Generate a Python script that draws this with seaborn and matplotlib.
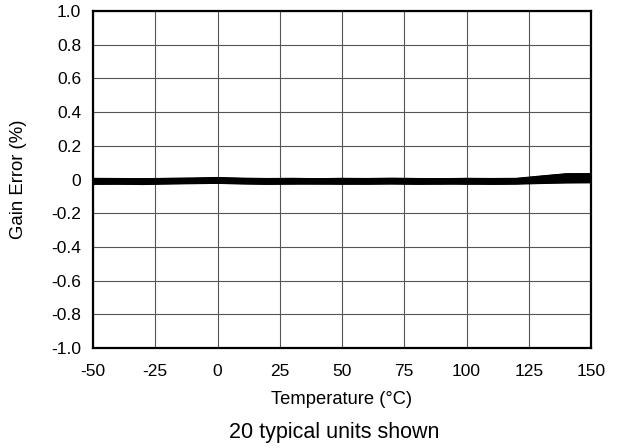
import matplotlib
matplotlib.use("Agg")
import matplotlib.pyplot as plt
import seaborn as sns
import pandas as pd

# Temperature sweep (deg C)
temperature = [-50, -40, -30, -20, -10, 0, 10, 20, 30, 40, 50, 60, 70, 80, 90, 100, 110, 120, 130, 140, 150]

# Gain error (%) of 20 typical units
unit_01 = [-0.004, -0.006, -0.002, -0.005, -0.003, 0.000, -0.004, -0.006, -0.003, -0.005, -0.004, -0.006, -0.004, -0.005, -0.003, -0.006, -0.004, -0.005, 0.004, 0.012, 0.014]
unit_02 = [-0.010, -0.011, -0.009, -0.010, -0.007, -0.005, -0.009, -0.011, -0.010, -0.009, -0.011, -0.010, -0.012, -0.010, -0.011, -0.009, -0.011, -0.010, -0.005, -0.001, 0.000]
unit_03 = [-0.016, -0.018, -0.017, -0.015, -0.014, -0.012, -0.015, -0.017, -0.016, -0.018, -0.015, -0.017, -0.016, -0.018, -0.019, -0.016, -0.017, -0.015, -0.011, -0.008, -0.007]
unit_04 = [-0.006, -0.004, -0.007, -0.006, -0.002, 0.002, -0.003, -0.005, -0.006, -0.004, -0.005, -0.007, -0.006, -0.004, -0.006, -0.005, -0.007, -0.006, 0.010, 0.022, 0.024]
unit_05 = [-0.022, -0.021, -0.023, -0.020, -0.018, -0.017, -0.019, -0.021, -0.020, -0.022, -0.021, -0.019, -0.021, -0.023, -0.021, -0.020, -0.022, -0.021, -0.016, -0.013, -0.012]
unit_06 = [-0.001, -0.002, 0.001, -0.003, 0.002, 0.005, 0.000, -0.002, 0.001, -0.001, -0.003, -0.001, 0.000, -0.002, 0.001, -0.002, -0.001, -0.003, 0.014, 0.028, 0.030]
unit_07 = [-0.013, -0.012, -0.014, -0.011, -0.010, -0.008, -0.012, -0.013, -0.011, -0.014, -0.012, -0.013, -0.011, -0.014, -0.013, -0.012, -0.014, -0.013, -0.008, -0.004, -0.003]
unit_08 = [-0.008, -0.009, -0.010, -0.007, -0.005, -0.002, -0.006, -0.008, -0.007, -0.009, -0.008, -0.010, -0.008, -0.007, -0.009, -0.010, -0.008, -0.007, 0.002, 0.008, 0.009]
unit_09 = [-0.019, -0.017, -0.020, -0.018, -0.016, -0.014, -0.017, -0.019, -0.018, -0.017, -0.020, -0.018, -0.019, -0.017, -0.018, -0.025, -0.019, -0.018, -0.014, -0.010, -0.009]
unit_10 = [-0.003, -0.005, -0.004, -0.006, -0.002, 0.002, -0.003, -0.005, -0.004, -0.006, -0.004, -0.003, -0.005, -0.004, -0.006, -0.004, -0.003, -0.005, 0.012, 0.025, 0.027]
unit_11 = [-0.012, -0.014, -0.013, -0.012, -0.009, -0.007, -0.011, -0.014, -0.013, -0.011, -0.013, -0.014, -0.012, -0.013, -0.011, -0.013, -0.012, -0.011, -0.007, -0.003, -0.002]
unit_12 = [-0.024, -0.023, -0.025, -0.022, -0.020, -0.018, -0.021, -0.024, -0.022, -0.023, -0.021, -0.024, -0.022, -0.021, -0.023, -0.022, -0.024, -0.022, -0.018, -0.015, -0.014]
unit_13 = [0.002, 0.000, 0.001, 0.003, 0.004, 0.007, 0.003, 0.001, 0.000, 0.002, 0.003, 0.001, 0.000, 0.002, 0.001, 0.003, 0.001, 0.002, 0.016, 0.030, 0.031]
unit_14 = [-0.015, -0.017, -0.016, -0.014, -0.012, -0.010, -0.014, -0.016, -0.015, -0.014, -0.016, -0.015, -0.014, -0.017, -0.015, -0.016, -0.014, -0.015, -0.010, -0.006, -0.005]
unit_15 = [-0.007, -0.008, -0.006, -0.009, -0.005, -0.003, -0.007, -0.009, -0.008, -0.007, -0.006, -0.008, -0.009, -0.007, -0.006, -0.008, -0.009, -0.007, 0.005, 0.016, 0.018]
unit_16 = [-0.020, -0.022, -0.019, -0.021, -0.017, -0.015, -0.019, -0.020, -0.021, -0.019, -0.020, -0.022, -0.020, -0.019, -0.021, -0.020, -0.019, -0.020, -0.015, -0.012, -0.011]
unit_17 = [-0.011, -0.010, -0.012, -0.011, -0.008, -0.006, -0.010, -0.012, -0.011, -0.010, -0.012, -0.011, -0.010, -0.012, -0.011, -0.010, -0.012, -0.011, -0.003, 0.003, 0.004]
unit_18 = [-0.017, -0.019, -0.018, -0.016, -0.015, -0.013, -0.017, -0.019, -0.018, -0.017, -0.018, -0.016, -0.017, -0.019, -0.018, -0.017, -0.016, -0.018, -0.012, -0.009, -0.008]
unit_19 = [0.004, 0.003, 0.002, 0.004, 0.006, 0.009, 0.005, 0.003, 0.004, 0.002, 0.004, 0.003, 0.005, 0.003, 0.002, 0.004, 0.003, 0.004, 0.018, 0.031, 0.032]
unit_20 = [-0.026, -0.025, -0.027, -0.024, -0.022, -0.020, -0.024, -0.026, -0.025, -0.024, -0.026, -0.025, -0.024, -0.026, -0.025, -0.024, -0.026, -0.025, -0.021, -0.018, -0.017]

units = [unit_01, unit_02, unit_03, unit_04, unit_05, unit_06, unit_07, unit_08, unit_09, unit_10,
         unit_11, unit_12, unit_13, unit_14, unit_15, unit_16, unit_17, unit_18, unit_19, unit_20]

x_ticks = [-50, -25, 0, 25, 50, 75, 100, 125, 150]
y_ticks = [-1.0, -0.8, -0.6, -0.4, -0.2, 0.0, 0.2, 0.4, 0.6, 0.8, 1.0]
y_tick_labels = ["-1.0", "-0.8", "-0.6", "-0.4", "-0.2", "0", "0.2", "0.4", "0.6", "0.8", "1.0"]

#Long-form table for seaborn
rows = []
for i, vals in enumerate(units):
    for t, v in zip(temperature, vals):
        rows.append({"Temperature": t, "Gain Error": v, "Unit": i + 1})
df = pd.DataFrame(rows)

sns.set_theme(style="white")
plt.rcParams['font.family'] = ['Liberation Sans', 'DejaVu Sans']

fig = plt.figure(figsize=(6.18, 4.48), dpi=100)
ax = fig.add_axes([93 / 618, 1 - 348 / 448, 498 / 618, 337 / 448])

sns.lineplot(data=df, x="Temperature", y="Gain Error", units="Unit", estimator=None,
             color="black", linewidth=1.5, ax=ax, legend=False)

ax.set_xlim(-50, 150)
ax.set_ylim(-1.0, 1.0)
ax.set_xticks(x_ticks)
ax.set_xticklabels([str(t) for t in x_ticks])
ax.set_yticks(y_ticks)
ax.set_yticklabels(y_tick_labels)
ax.tick_params(axis='both', labelsize=12.5, length=0, colors='black')
ax.tick_params(axis='y', pad=8.5)
ax.tick_params(axis='x', pad=11.5)
ax.grid(True, color='#555555', linewidth=0.8)
for s in ax.spines.values():
    s.set_color('black')
    s.set_linewidth(1.6)

ax.set_xlabel("Temperature (°C)", fontsize=13.2, color='black', va='center')
ax.set_ylabel("Gain Error (%)", fontsize=13.4, color='black', va='center')
ax.xaxis.set_label_coords(0.5, (348 - 399) / 337)
ax.yaxis.set_label_coords((19 - 93) / 498, 0.5)
fig.text(334 / 618, 1 - 432 / 448, "20 typical units shown", ha='center', va='center', fontsize=15.5, color='black')

plt.savefig('out.png', dpi=100)
